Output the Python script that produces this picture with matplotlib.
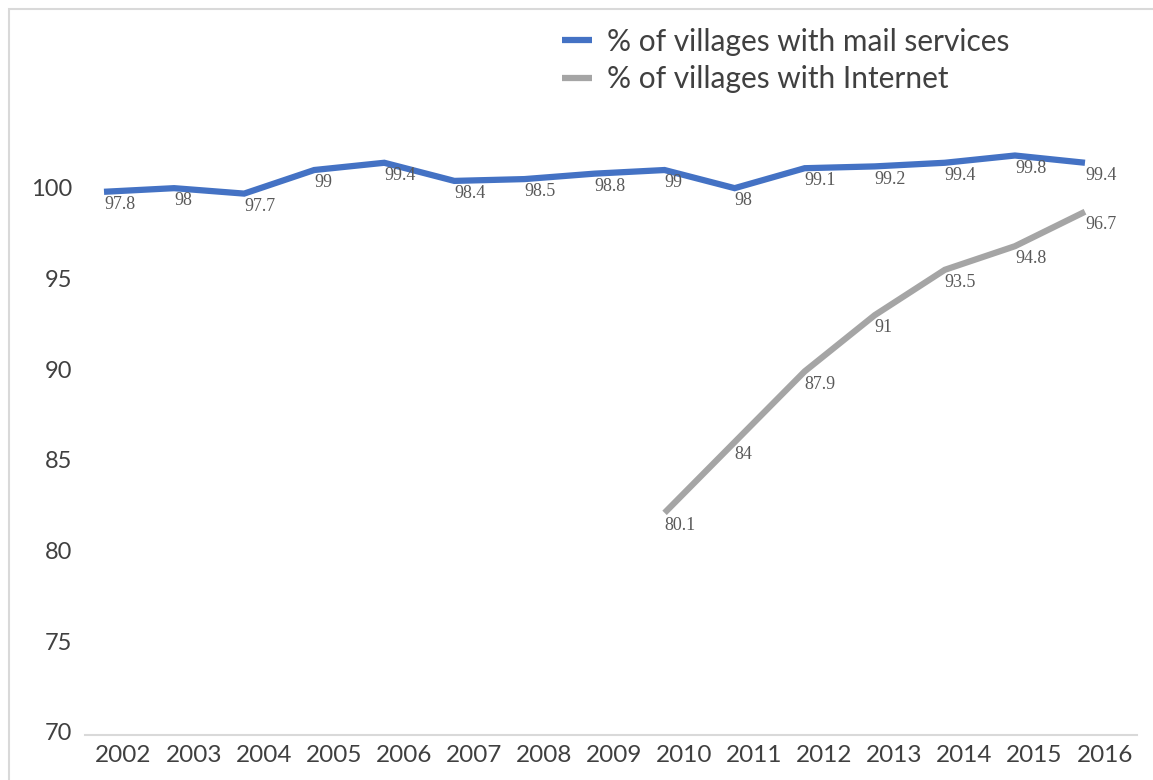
import numpy as np
import matplotlib
matplotlib.use("Agg")
import matplotlib.pyplot as plt
from matplotlib.patches import Rectangle

years = ["2002", "2003", "2004", "2005", "2006", "2007", "2008", "2009",
         "2010", "2011", "2012", "2013", "2014", "2015", "2016"]
mail = [97.8, 98, 97.7, 99, 99.4, 98.4, 98.5, 98.8, 99, 98, 99.1, 99.2, 99.4, 99.8, 99.4]
internet = [np.nan] * 8 + [80.1, 84, 87.9, 91, 93.5, 94.8, 96.7]
ytick_labels = [70, 75, 80, 85, 90, 95, 100]

mail_label = "% of villages with mail services"
internet_label = "% of villages with Internet"

BLUE = "#4472C4"
GRAY = "#A5A5A5"
TEXT = "#404040"
LABEL = "#595959"
YSHIFT = -1.98   # the reference axis labels sit ~2 units off the plotted values
XSHIFT = 0.28    # the reference year labels sit right of the points

W, H = 1153, 780
fig = plt.figure(figsize=(W / 100, H / 100), dpi=100)
fig.patches.append(Rectangle((9 / W, -0.1), 1.2, 1 - 9 / H + 0.1,
                             transform=fig.transFigure, fill=False,
                             edgecolor="#D9D9D9", lw=1.5))

ax = fig.add_axes([85 / W, 1 - 735 / H, (1137 - 85) / W, (735 - 100) / H])
x = np.arange(len(years))
ax.plot(x, mail, color=BLUE, lw=4.5, label=mail_label, solid_joinstyle="miter",
        solid_capstyle="butt")
ax.plot(x, internet, color=GRAY, lw=4.5, label=internet_label, solid_joinstyle="miter",
        solid_capstyle="butt")

for xi, v in zip(x, mail):
    ax.annotate(f"{v:g}", (xi, v), xytext=(0, -3), textcoords="offset points",
                ha="left", va="top", fontsize=13, color=LABEL,
                family="Liberation Serif")
for xi, v in zip(x, internet):
    if not np.isnan(v):
        ax.annotate(f"{v:g}", (xi, v), xytext=(0, -3), textcoords="offset points",
                    ha="left", va="top", fontsize=13, color=LABEL,
                    family="Liberation Serif")

ppu = 90.7 / 5  # pixels per unit
ybot = 70 + YSHIFT - 3 / ppu
ytop = 70 + YSHIFT + (732 - 100) / ppu
ax.set_ylim(ybot, ytop)
ax.set_xlim((85 - 104) / 70.07, (1137 - 104) / 70.07)

ax.set_yticks([t + YSHIFT for t in ytick_labels], labels=[str(t) for t in ytick_labels])
ax.set_xticks(x + XSHIFT, labels=years)
ax.tick_params(length=0, labelcolor=TEXT)
ax.tick_params(axis="x", pad=7, labelsize=17.5)
ax.tick_params(axis="y", pad=9, labelsize=17)
for lab in ax.get_xticklabels() + ax.get_yticklabels():
    lab.set_family("Lato")

for s in ["top", "right", "left"]:
    ax.spines[s].set_visible(False)
ax.spines["bottom"].set_color("#D9D9D9")
ax.spines["bottom"].set_linewidth(1.5)

leg = fig.legend(loc="upper left", bbox_to_anchor=(547 / W, 1 - 13 / H),
                 frameon=False, borderpad=0, handlelength=1.0, handletextpad=0.5,
                 labelspacing=0.32, prop={"family": "Lato", "size": 21.5})
for t in leg.get_texts():
    t.set_color(TEXT)

fig.savefig("out.png", dpi=100)
